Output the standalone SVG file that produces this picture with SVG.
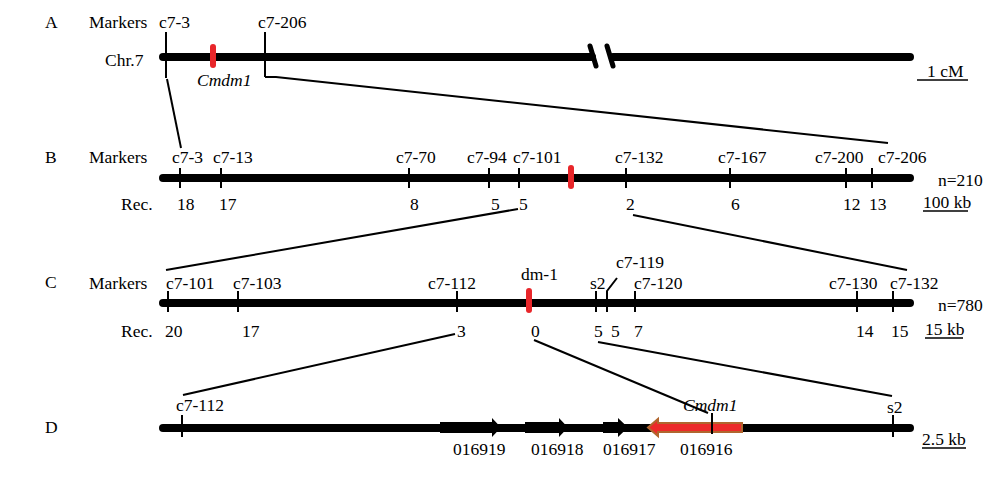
<svg xmlns="http://www.w3.org/2000/svg" width="1000" height="477" viewBox="0 0 1000 477">
<style>
text{font-family:"Liberation Serif","Times New Roman",serif;font-size:17.5px;fill:#000}
.it{font-style:italic}
.chr{stroke:#000;stroke-width:8;stroke-linecap:round;fill:none}
.tick{stroke:#000;stroke-width:2;fill:none}
.con{stroke:#000;stroke-width:2;fill:none}
.red{stroke:#E8262A;stroke-width:6;stroke-linecap:round}
.ul{stroke:#000;stroke-width:1.5}
.gene{fill:#000}
</style>
<rect width="1000" height="477" fill="#fff"/>

<g id="panelA">
<text x="45" y="28">A</text>
<text x="89" y="28">Markers</text>
<text x="105" y="66">Chr.7</text>
<line class="chr" x1="163" y1="57" x2="592" y2="57"/>
<line class="chr" x1="613" y1="57" x2="910" y2="57"/>
<line x1="590" y1="46" x2="596" y2="66" stroke="#000" stroke-width="5" stroke-linecap="round"/>
<line x1="607" y1="46" x2="613" y2="66" stroke="#000" stroke-width="5" stroke-linecap="round"/>
<line class="red" x1="213" y1="47" x2="213" y2="65"/>
<line class="tick" x1="166" y1="32" x2="166" y2="78"/>
<line class="tick" x1="265" y1="32" x2="265" y2="77"/>
<text x="159" y="28">c7-3</text>
<text x="258" y="28">c7-206</text>
<text class="it" x="197" y="86">Cmdm1</text>
<text x="927" y="77">1 cM</text>
<line class="ul" x1="917" y1="80" x2="968" y2="80"/>
</g>

<g id="panelB">
<text x="45" y="163">B</text>
<text x="89" y="163">Markers</text>
<text x="121" y="210">Rec.</text>
<line class="chr" x1="163" y1="178" x2="910" y2="178"/>
<g class="tick">
<line x1="180" y1="168" x2="180" y2="188"/>
<line x1="221" y1="168" x2="221" y2="188"/>
<line x1="409" y1="168" x2="409" y2="188"/>
<line x1="489" y1="168" x2="489" y2="188"/>
<line x1="519" y1="168" x2="519" y2="188"/>
<line x1="626" y1="168" x2="626" y2="188"/>
<line x1="730" y1="168" x2="730" y2="188"/>
<line x1="846" y1="168" x2="846" y2="188"/>
<line x1="872" y1="168" x2="872" y2="188"/>
</g>
<line class="red" x1="571" y1="168" x2="571" y2="186"/>
<text x="172" y="163">c7-3</text>
<text x="213" y="163">c7-13</text>
<text x="396" y="163">c7-70</text>
<text x="467" y="163">c7-94</text>
<text x="513" y="163">c7-101</text>
<text x="615" y="163">c7-132</text>
<text x="718" y="163">c7-167</text>
<text x="815" y="163">c7-200</text>
<text x="878" y="163">c7-206</text>
<text x="177" y="210">18</text>
<text x="219" y="210">17</text>
<text x="410" y="210">8</text>
<text x="491" y="210">5</text>
<text x="519" y="210">5</text>
<text x="626" y="210">2</text>
<text x="731" y="210">6</text>
<text x="843" y="210">12</text>
<text x="869" y="210">13</text>
<text x="938" y="186">n=210</text>
<text x="923" y="208">100 kb</text>
<line class="ul" x1="923" y1="211" x2="968" y2="211"/>
</g>

<g id="panelC">
<text x="45" y="288">C</text>
<text x="89" y="289">Markers</text>
<text x="121" y="337">Rec.</text>
<line class="chr" x1="163" y1="303" x2="910" y2="303"/>
<g class="tick">
<line x1="168" y1="291" x2="168" y2="312"/>
<line x1="238" y1="291" x2="238" y2="312"/>
<line x1="457" y1="291" x2="457" y2="312"/>
<line x1="596" y1="291" x2="596" y2="312"/>
<polyline points="607,312 607,291 617,278"/>
<line x1="635" y1="291" x2="635" y2="312"/>
<line x1="857" y1="291" x2="857" y2="312"/>
<line x1="893" y1="291" x2="893" y2="312"/>
</g>
<line class="red" x1="529" y1="291" x2="529" y2="310"/>
<text x="166" y="289">c7-101</text>
<text x="233" y="289">c7-103</text>
<text x="428" y="289">c7-112</text>
<text x="521" y="280">dm-1</text>
<text x="590" y="289">s2</text>
<text x="616" y="268">c7-119</text>
<text x="634" y="289">c7-120</text>
<text x="829" y="289">c7-130</text>
<text x="890" y="289">c7-132</text>
<text x="165" y="337">20</text>
<text x="242" y="337">17</text>
<text x="457" y="337">3</text>
<text x="531" y="337">0</text>
<text x="594" y="337">5</text>
<text x="611" y="337">5</text>
<text x="634" y="337">7</text>
<text x="856" y="337">14</text>
<text x="891" y="337">15</text>
<text x="938" y="311">n=780</text>
<text x="925" y="335">15 kb</text>
<line class="ul" x1="925" y1="338" x2="963" y2="338"/>
</g>

<g id="panelD">
<text x="45" y="433">D</text>
<line class="chr" x1="163" y1="428" x2="910" y2="428"/>
<g id="g016919">
<polygon class="gene" points="440,422 492,422 492,418 501,427.5 492,437 492,433 440,433"/>
<text x="453" y="455">016919</text>
</g>
<g id="g016918">
<polygon class="gene" points="525,422 559,422 559,418 568,427.5 559,437 559,433 525,433"/>
<text x="531" y="455">016918</text>
</g>
<g id="g016917">
<polygon class="gene" points="603,422 618,422 618,418 628,427.5 618,437 618,433 603,433"/>
<text x="603" y="455">016917</text>
</g>
<g id="g016916">
<polygon points="742,423 658,423 658,419 648,427.5 658,436 658,432 742,432" fill="#EC2A2A" stroke="#B0662E" stroke-width="2" stroke-linejoin="miter"/>
<text x="680" y="455">016916</text>
</g>
<g class="tick">
<line x1="182" y1="415" x2="182" y2="437"/>
<line x1="712" y1="413" x2="712" y2="434"/>
<line x1="893" y1="415" x2="893" y2="437"/>
</g>
<text x="176" y="411">c7-112</text>
<text class="it" x="683" y="411">Cmdm1</text>
<text x="887" y="413">s2</text>
<text x="922" y="445">2.5 kb</text>
<line class="ul" x1="922" y1="448" x2="966" y2="448"/>
</g>

<g id="connectors" class="con">
<polyline class="con" points="167,79 181,148"/>
<polyline class="con" points="265,77 276,77 888,143"/>
<line class="con" x1="518" y1="209" x2="166" y2="270"/>
<line class="con" x1="633" y1="215" x2="907" y2="270"/>
<line class="con" x1="455" y1="334" x2="183" y2="395"/>
<line class="con" x1="534" y1="340" x2="708" y2="413"/>
<line class="con" x1="598" y1="342" x2="892" y2="396"/>
</g>
</svg>
